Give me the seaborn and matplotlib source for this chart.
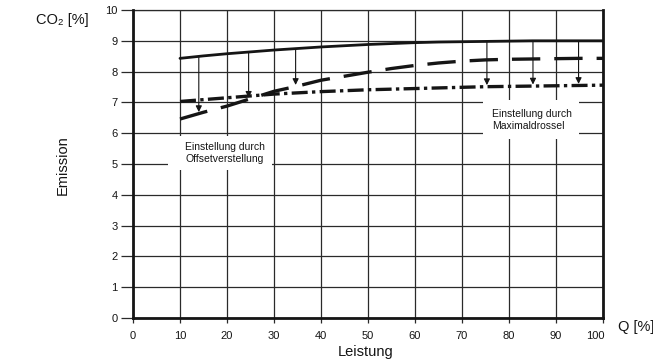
import numpy as np
import pandas as pd
import matplotlib
matplotlib.use("Agg")
import matplotlib.pyplot as plt
import matplotlib.transforms as mtransforms
from matplotlib.patches import Rectangle
import seaborn as sns

# ---- data ----
leistung = [10, 15, 20, 25, 30, 35, 40, 45, 50, 55, 60, 65, 70, 75, 80, 85, 90, 95, 100]
co2_basis = [8.43, 8.51, 8.58, 8.64, 8.70, 8.75, 8.80, 8.84, 8.88, 8.91, 8.94, 8.96, 8.97, 8.98, 8.99, 9.00, 9.00, 9.00, 9.00]
co2_offset = [6.46, 6.68, 6.88, 7.12, 7.36, 7.53, 7.72, 7.85, 7.98, 8.10, 8.20, 8.28, 8.34, 8.38, 8.40, 8.41, 8.42, 8.43, 8.43]
co2_drossel = [7.03, 7.09, 7.15, 7.21, 7.27, 7.31, 7.35, 7.38, 7.41, 7.43, 7.45, 7.47, 7.49, 7.51, 7.52, 7.53, 7.54, 7.55, 7.56]
arrows_offset_x = [14, 24.6, 34.6]
arrows_drossel_x = [75.3, 85.1, 94.8]
x_ticks = [0, 10, 20, 30, 40, 50, 60, 70, 80, 90, 100]
y_ticks = [0, 1, 2, 3, 4, 5, 6, 7, 8, 9, 10]
label_offset = "Einstellung durch\nOffsetverstellung"
label_drossel = "Einstellung durch\nMaximaldrossel"

df = pd.DataFrame({"Leistung": leistung * 3,
                   "CO2": co2_basis + co2_offset + co2_drossel,
                   "Kurve": ["basis"] * len(leistung) + ["offset"] * len(leistung) + ["drossel"] * len(leistung)})

sns.set_theme(style="white")
FONT = ["Liberation Sans", "DejaVu Sans"]
plt.rcParams["font.family"] = FONT

W, H = 653, 363
fig = plt.figure(figsize=(W / 100, H / 100), dpi=100)
ax = fig.add_axes([133 / W, 1 - 318 / H, (603 - 133) / W, (318 - 10) / H])

INK = "#151515"
GRID = "#2a2a2a"

ax.set_xlim(0, 100)
ax.set_ylim(0, 10)
ax.set_xticks(x_ticks)
ax.set_yticks(y_ticks)
ax.grid(True, color=GRID, lw=0.9, zorder=0)
ax.set_axisbelow(True)

for side in ["left", "bottom", "right"]:
    ax.spines[side].set_linewidth(2.0)
    ax.spines[side].set_color(INK)
    ax.spines[side].set_zorder(5)
ax.spines["top"].set_linewidth(0.9)
ax.spines["top"].set_color(GRID)

ax.tick_params(axis="y", length=8.6, width=0.9, color=GRID, pad=2.5, labelsize=8, labelcolor=INK, left=True)
ax.tick_params(axis="x", length=3.5, width=0.9, color=GRID, pad=6, labelsize=8, labelcolor=INK, bottom=True)

# white boxes behind annotations (cover grid)
ax.add_patch(Rectangle((7.4, 4.8), 22.2, 1.1, facecolor="white", edgecolor="none", zorder=1))
ax.add_patch(Rectangle((74.5, 5.81), 20.4, 1.27, facecolor="white", edgecolor="none", zorder=1))

sns.lineplot(data=df[df.Kurve == "basis"], x="Leistung", y="CO2", ax=ax, color=INK, lw=2.0, zorder=3, legend=False)
sns.lineplot(data=df[df.Kurve == "offset"], x="Leistung", y="CO2", ax=ax, color=INK, lw=2.4, zorder=3, legend=False)
sns.lineplot(data=df[df.Kurve == "drossel"], x="Leistung", y="CO2", ax=ax, color=INK, lw=2.4, zorder=3, legend=False)
lines = ax.get_lines()
lines[1].set_dashes([8.5, 4.2])
lines[1].set_dash_capstyle("butt")
lines[2].set_dashes([4.8, 1.3, 1.0, 1.3])
lines[2].set_dash_capstyle("butt")

for xa in arrows_offset_x:
    y0 = np.interp(xa, leistung, co2_basis)
    y1 = np.interp(xa, leistung, co2_offset)
    ax.annotate("", xy=(xa, y1 + 0.05), xytext=(xa, y0),
                arrowprops=dict(arrowstyle="-|>", color=INK, lw=0.8, mutation_scale=9, shrinkA=0, shrinkB=0), zorder=4)
for xa in arrows_drossel_x:
    y0 = np.interp(xa, leistung, co2_basis)
    y1 = np.interp(xa, leistung, co2_drossel)
    ax.annotate("", xy=(xa, y1 + 0.05), xytext=(xa, y0),
                arrowprops=dict(arrowstyle="-|>", color=INK, lw=0.8, mutation_scale=9, shrinkA=0, shrinkB=0), zorder=4)

ax.text(19.6, 5.36, label_offset, ha="center", va="center", fontsize=7.5, color=INK, zorder=4, linespacing=1.25)
ax.text(76.4, 6.43, label_drossel, ha="left", va="center", fontsize=7.5, color=INK, zorder=4, linespacing=1.25)

ax.set_xlabel("")
ax.set_ylabel("")

# shift the "100" tick label left as in the reference
lbls = ax.get_xticklabels()
off = mtransforms.ScaledTranslation(-8 / 100, 0, fig.dpi_scale_trans)
lbls[-1].set_transform(lbls[-1].get_transform() + off)

fig.text(36 / W, 1 - 20 / H, "CO₂ [%]", ha="left", va="center", fontsize=10.5, color=INK, family=FONT)
fig.text(63 / W, 1 - 165 / H, "Emission", ha="center", va="center", rotation=90, fontsize=10.5, color=INK, family=FONT)
fig.text(618 / W, 1 - 327 / H, "Q [%]", ha="left", va="center", fontsize=10.5, color=INK, family=FONT)
fig.text(366 / W, 1 - 352 / H, "Leistung", ha="center", va="center", fontsize=10.5, color=INK, family=FONT)

fig.savefig("out.png", dpi=100, facecolor="white")
